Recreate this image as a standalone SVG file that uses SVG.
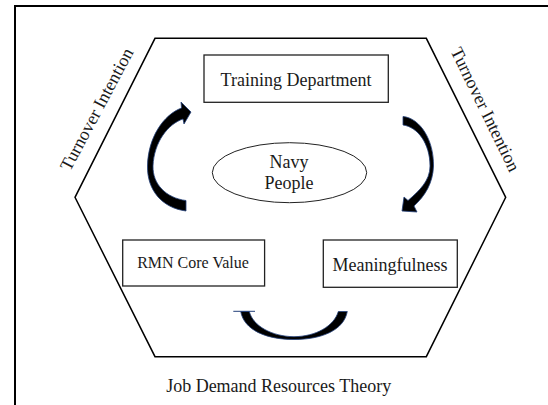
<svg xmlns="http://www.w3.org/2000/svg" width="548" height="405" viewBox="0 0 548 405">
<style>
.t{font-family:"Liberation Serif","Times New Roman",serif;font-size:18px;fill:#1a1a1a;text-anchor:middle}
.box{fill:#fff;stroke:#222;stroke-width:1.3}
.arr{fill:#000;stroke:#23407a;stroke-width:0.8;stroke-linejoin:round}
</style>
<rect width="548" height="405" fill="#fff"/>
<rect id="frame" x="15" y="6" width="600" height="500" fill="none" stroke="#000" stroke-width="2"/>
<g id="hexagon">
<polygon points="155,38.3 426.3,38.3 505.7,197.3 426.3,356.7 155,356.7 75,197.3" fill="none" stroke="#000" stroke-width="1.5"/>
</g>
<g id="label-turnover-left">
<text class="t" x="102" y="112" transform="rotate(-62 102 112)">Turnover Intention</text>
</g>
<g id="label-turnover-right">
<text class="t" x="480" y="112" transform="rotate(64 480 112)">Turnover Intention</text>
</g>
<g id="node-training">
<rect class="box" x="204" y="55" width="184.3" height="47.3"/>
<text class="t" x="296" y="86">Training Department</text>
</g>
<g id="node-navy">
<ellipse cx="289.5" cy="172.7" rx="77.2" ry="30" fill="#fff" stroke="#222" stroke-width="1"/>
<text class="t" x="289" y="168">Navy</text>
<text class="t" x="289" y="189">People</text>
</g>
<g id="node-rmn">
<rect class="box" x="122.7" y="240" width="141.9" height="46"/>
<text class="t" x="193" y="268.3" style="font-size:16px">RMN Core Value</text>
</g>
<g id="node-meaning">
<rect class="box" x="323.3" y="240" width="134" height="47.3"/>
<text class="t" x="390" y="270.7">Meaningfulness</text>
</g>
<g id="connectors">
<path class="arr" d="M186,200.5 L186,211 C162,208 147,190 147.5,166 C148,138 163,115 181.5,108 L181,102 L191,112 L184,124 L183,119 C168,124 154,142 153,166 C152.5,184 166,198 186,200.5 Z"/>
<path class="arr" d="M403,116.5 C420,118 434,140 433.5,166 C433,183 425,196 414,206 L417,212 L402,211 L404,197 L408,200.5 C419,191 430,181 430,166 C430,144 418,127 403,125 Z"/>
<path class="arr" d="M240.7,311.5 C244,330 266,339.5 294,339.5 C322,339.5 344,330 347.3,311.5 L338.3,311.5 C334,326 316,336.5 294,336.7 C272,336.5 253,326 249.3,311.5 Z"/>
<line x1="233.3" y1="311.3" x2="255" y2="311.3" stroke="#23407a" stroke-width="1"/>
</g>
<g id="label-theory">
<text class="t" x="278.7" y="391.7">Job Demand Resources Theory</text>
</g>
</svg>
